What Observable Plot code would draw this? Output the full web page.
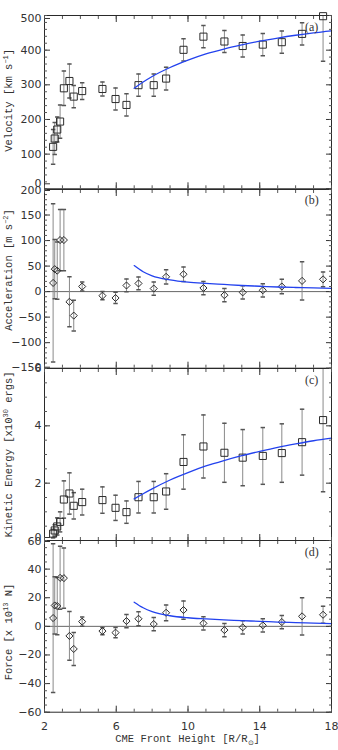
<!DOCTYPE html>
<html><head><meta charset="utf-8">
<script src="https://cdn.jsdelivr.net/npm/d3@7"></script>
<script src="https://cdn.jsdelivr.net/npm/@observablehq/plot@0.6"></script>
<style>
body{margin:0;background:#fff}
#c{position:relative;width:338px;height:750px;overflow:hidden}
#c svg{position:absolute;left:0;overflow:visible}
</style>
</head><body><div id="c"></div>
<script>
// CME front height [R/Rsun]
const heights = [2.48, 2.57, 2.71, 2.87, 3.08, 3.39, 3.63, 4.10, 5.23, 5.96, 6.57, 7.24, 8.09, 8.78, 9.75, 10.86, 12.03, 13.05, 14.17, 15.23, 16.36, 17.53];
const velocity = [121, 145, 171, 194, 290, 311, 266, 282, 288, 259, 242, 299, 299, 318, 401, 439, 425, 412, 416, 423, 447, 498];
const velocityErr = [50, 46, 36, 48, 50, 49, 32, 24, 20, 32, 32, 32, 32, 33, 32, 32, 32, 32, 32, 32, 32, 130];
const acceleration = [17, 44, 41, 101, 101, -20, -47, 10, -8, -12.5, 12, 16, 6, 29, 34, 7, -7, -1.5, 2.6, 10, 21, 24];
const accelerationErr = [155, 58, 56, 60, 60, 49, 30, 9, 8, 11, 12.5, 12.5, 13, 14, 14, 13, 13, 13, 13, 14, 37.5, 14.5];
const kinetic = [0.24, 0.35, 0.49, 0.65, 1.43, 1.64, 1.21, 1.34, 1.41, 1.14, 0.99, 1.51, 1.51, 1.71, 2.74, 3.28, 3.06, 2.89, 2.95, 3.05, 3.43, 4.20];
const kineticErr = [0.15, 0.2, 0.3, 0.35, 0.65, 0.72, 0.46, 0.45, 0.46, 0.44, 0.39, 0.55, 0.55, 0.62, 0.95, 1.1, 1.03, 0.98, 0.99, 1.02, 1.15, 2.5];
const force = [5.8, 14.6, 14.2, 33.9, 33.7, -6.7, -15.8, 3.3, -3.3, -4.4, 3.7, 5.3, 1.6, 9.5, 11.4, 2.1, -2.6, -0.7, 0.7, 3.0, 7.0, 8.1];
const forceErr = [52, 20, 20, 22, 21, 17, 11.5, 3.2, 2.5, 3.6, 4.6, 4.9, 4.6, 5.5, 6.4, 4.6, 4.6, 4.6, 4.6, 4.6, 13, 6];

// fitted curves (blue)
const fitHeights = [7, 7.5, 8, 9, 10, 11, 12, 13, 14, 15, 16, 17, 18];
const fitVelocity = [290, 308, 324, 350, 371, 389, 403, 415, 426, 435, 443, 450, 456];
const fitAcceleration = [51, 39, 31, 23, 18.5, 16, 14, 12, 10.5, 9, 8, 7.2, 6.5];
const fitKinetic = [1.45, 1.63, 1.80, 2.11, 2.37, 2.60, 2.79, 2.96, 3.11, 3.25, 3.37, 3.48, 3.57];
const fitForce = [16.9, 13, 10.3, 7.4, 6.0, 5.2, 4.5, 4.0, 3.5, 3.0, 2.6, 2.2, 1.9];

// tick labels
const xTicks = [2, 6, 10, 14, 18];
const xMinor = d3.range(2, 18.01, 1);
const vTicks = [0, 100, 200, 300, 400, 500];
const aTicks = [-150, -100, -50, 0, 50, 100, 150, 200];
const kTicks = [0, 2, 4, 6];
const fTicks = [-60, -40, -20, 0, 20, 40, 60];

const container = document.getElementById("c");
const cap = {draw(ctx) { ctx.moveTo(-2.2, 0); ctx.lineTo(2.2, 0); }};
const BLUE = "#2342ee";

function panel(o) {
  const rows = heights.map((h, i) => ({h, v: o.values[i], e: o.errs[i]}));
  const fit = fitHeights.map((h, i) => ({h, v: o.fit[i]}));
  const mt = 10, mb = o.last ? 750 - o.bottom : 10;
  const minorY = d3.range(o.domain[0], o.domain[1] + 1e-9, o.minorStep);
  const blank = () => "";
  const shift = o.shift || {};
  const plain = o.ticks.filter(t => !(t in shift));
  const shiftedAxes = Object.entries(shift).map(([t, dy]) =>
    Plot.axisY([+t], {anchor: "left", tickSize: -6, tickPadding: 9, label: null, stroke: "#333", dy}));
  const svg = Plot.plot({
    width: 338,
    height: o.bottom - o.top + mt + mb,
    marginTop: mt, marginBottom: mb, marginLeft: 44, marginRight: 7,
    x: {domain: [2, 18], axis: null},
    y: {domain: o.domain, axis: null},
    style: {fontFamily: "DejaVu Sans", fontSize: "11px", color: "#333", background: "transparent"},
    marks: [
      o.zero ? Plot.ruleY([0], {stroke: "#666", strokeWidth: 1}) : null,
      Plot.ruleX(rows, {x: "h", y1: d => d.v - d.e, y2: d => d.v + d.e, stroke: "#8a8a8a", strokeWidth: 1, clip: true}),
      Plot.dot(rows, {x: "h", y: d => d.v + d.e, symbol: cap, r: 3, stroke: "#555", fill: "none", clip: true}),
      Plot.dot(rows, {x: "h", y: d => d.v - d.e, symbol: cap, r: 3, stroke: "#555", fill: "none", clip: true}),
      Plot.dot(rows, {x: "h", y: "v", symbol: o.symbol, r: o.r, stroke: "#2a2a2a", strokeWidth: 1, fill: "none"}),
      Plot.line(fit, {x: "h", y: "v", stroke: BLUE, strokeWidth: 1.3, curve: "monotone-x"}),
      Plot.frame({stroke: "#2a2a2a", strokeWidth: 1}),
      Plot.axisY(plain, {anchor: "left", tickSize: -6, tickPadding: 9, label: null, stroke: "#333"}),
      ...shiftedAxes,
      Plot.axisY(minorY, {anchor: "left", tickSize: -3, tickFormat: blank, label: null, stroke: "#555"}),
      Plot.axisY(o.ticks, {anchor: "right", tickSize: -6, tickFormat: blank, label: null, stroke: "#333"}),
      Plot.axisY(minorY, {anchor: "right", tickSize: -3, tickFormat: blank, label: null, stroke: "#555"}),
      Plot.axisX(xTicks, {anchor: "bottom", tickSize: -6, tickPadding: 16, label: null, tickFormat: o.last ? d => d : blank, stroke: "#333"}),
      Plot.axisX(xMinor, {anchor: "bottom", tickSize: -3, tickFormat: blank, label: null, stroke: "#555"}),
      Plot.axisX(xTicks, {anchor: "top", tickSize: -6, tickFormat: blank, label: null, stroke: "#333"}),
      Plot.axisX(xMinor, {anchor: "top", tickSize: -3, tickFormat: blank, label: null, stroke: "#555"})
    ]
  });
  svg.style.top = (o.top - mt) + "px";
  container.appendChild(svg);
  const s = d3.select(svg);
  // y title
  const t = s.append("text")
    .attr("transform", `translate(12,${o.titleY - o.top + mt}) rotate(-90)`)
    .attr("text-anchor", "middle")
    .attr("font-family", "Liberation Mono")
    .attr("font-size", 10.5)
    .attr("fill", "#333");
  t.append("tspan").text(o.title[0]);
  t.append("tspan").attr("dy", -4).attr("font-size", 7).text(o.title[1]);
  t.append("tspan").attr("dy", 4).text(o.title[2]);
  // panel tag
  s.append("text").attr("x", 311.7).attr("y", o.tagY - o.top + mt)
    .attr("text-anchor", "middle").attr("font-family", "Liberation Serif")
    .attr("font-size", 12).attr("fill", "#333").text(o.tag);
  if (o.last) {
    const xt = s.append("text")
      .attr("x", 187.5).attr("y", 742 - o.top + mt)
      .attr("text-anchor", "middle").attr("font-family", "Liberation Mono")
      .attr("font-size", 10.5).attr("fill", "#333");
    xt.append("tspan").text("CME Front Height [R/R");
    xt.append("tspan").attr("dy", 2.5).attr("font-size", 7).text("\u2299");
    xt.append("tspan").attr("dy", -2.5).text("]");
  }
}

panel({top: 14.7, bottom: 188, domain: [0, 500], ticks: vTicks, minorStep: 20, values: velocity, errs: velocityErr,
  fit: fitVelocity, symbol: "square", r: 4, shift: {0: -5, 500: 3}, title: ["Velocity [km s", "\u22121", "]"], titleY: 100, tag: "(a)", tagY: 31});
panel({top: 189, bottom: 367.7, domain: [-150, 200], ticks: aTicks, minorStep: 10, values: acceleration, errs: accelerationErr,
  fit: fitAcceleration, symbol: "diamond2", r: 3.2, zero: true, shift: {200: 1, "-150": -1}, title: ["Acceleration [m s", "\u22122", "]"], titleY: 270, tag: "(b)", tagY: 204});
panel({top: 367.7, bottom: 539.7, domain: [0, 6], ticks: kTicks, minorStep: 0.5, values: kinetic, errs: kineticErr,
  fit: fitKinetic, symbol: "square", r: 4, shift: {0: -3}, title: ["Kinetic Energy [x10", "30", " ergs]"], titleY: 454, tag: "(c)", tagY: 384});
panel({top: 540, bottom: 711.7, domain: [-60, 60], ticks: fTicks, minorStep: 5, values: force, errs: forceErr,
  fit: fitForce, symbol: "diamond2", r: 3.2, zero: true, shift: {60: 1}, title: ["Force [x 10", "13", " N]"], titleY: 632, tag: "(d)", tagY: 556, last: true});
</script>
</body></html>
